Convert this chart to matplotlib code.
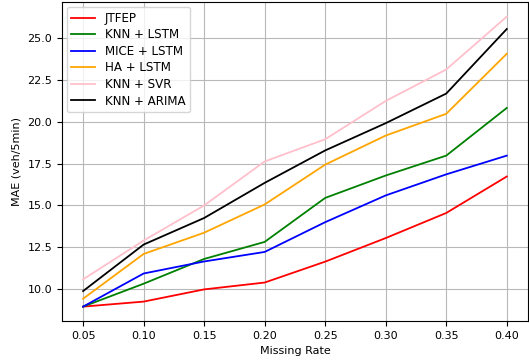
import matplotlib
matplotlib.use('Agg')
import matplotlib.pyplot as plt

missing_rates = [0.05, 0.10, 0.15, 0.20, 0.25, 0.30, 0.35, 0.40]

jtfep = [8.95, 9.25, 9.98, 10.39, 11.64, 13.05, 14.55, 16.73]
knn_lstm = [8.95, 10.32, 11.8, 12.82, 15.45, 16.79, 17.98, 20.83]
mice_lstm = [8.95, 10.93, 11.65, 12.22, 14.0, 15.6, 16.86, 17.98]
ha_lstm = [9.42, 12.1, 13.37, 15.06, 17.44, 19.18, 20.48, 24.07]
knn_svr = [10.58, 12.9, 15.0, 17.63, 18.96, 21.25, 23.13, 26.29]
knn_arima = [9.88, 12.66, 14.25, 16.35, 18.29, 19.92, 21.69, 25.55]

plt.rcParams['font.size'] = 8

fig = plt.figure(figsize=(5.29, 3.6), dpi=100)
ax = fig.add_subplot(111)

lw = 1.3
ax.plot(missing_rates, jtfep, color='red', lw=lw, label='JTFEP')
ax.plot(missing_rates, knn_lstm, color='green', lw=lw, label='KNN + LSTM')
ax.plot(missing_rates, mice_lstm, color='blue', lw=lw, label='MICE + LSTM')
ax.plot(missing_rates, ha_lstm, color='orange', lw=lw, label='HA + LSTM')
ax.plot(missing_rates, knn_svr, color='pink', lw=lw, label='KNN + SVR')
ax.plot(missing_rates, knn_arima, color='black', lw=lw, label='KNN + ARIMA')

ax.set_xticks(missing_rates)
ax.set_xticklabels([f'{r:.2f}' for r in missing_rates])
ax.set_xlabel('Missing Rate')
ax.set_ylabel('MAE (veh/5min)')
ax.legend(loc='upper left', fontsize=8.6, labelspacing=0.3, borderaxespad=0.4)
ax.grid(True, color='#b8b8b8')

fig.subplots_adjust(left=0.117, right=0.998, top=0.994, bottom=0.108)
fig.savefig('out.png', dpi=100)
